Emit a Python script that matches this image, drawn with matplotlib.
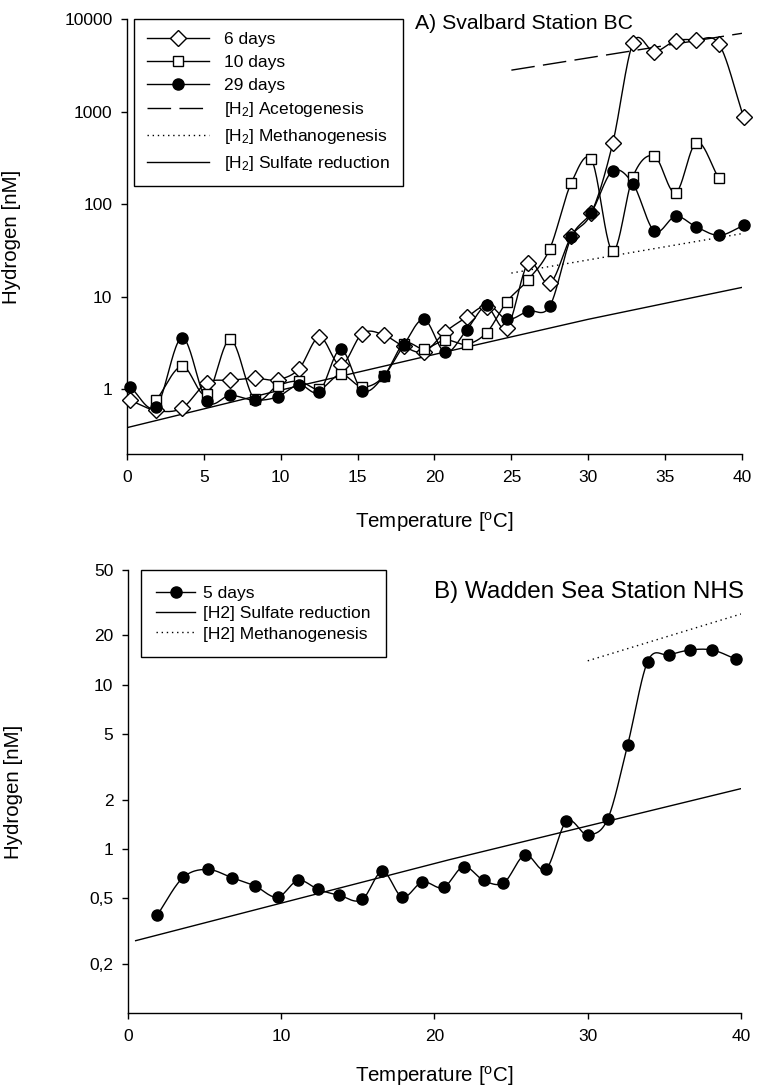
import matplotlib
matplotlib.use('Agg')
import matplotlib.pyplot as plt
import numpy as np
from matplotlib.ticker import FixedLocator, FixedFormatter, NullLocator

# data, panel A (Svalbard Station BC) #
#######################################

temp_a = [0.2, 1.9, 3.6, 5.2, 6.7, 8.3, 9.8, 11.2, 12.5, 13.9, 15.3, 16.7, 18.0, 19.3,
          20.7, 22.1, 23.4, 24.7, 26.1, 27.5, 28.9, 30.2, 31.6, 32.9, 34.3, 35.7, 37.0,
          38.5, 40.1]
h2_6d = [0.76, 0.59, 0.63, 1.18, 1.25, 1.32, 1.27, 1.67, 3.67, 1.82, 4.0, 3.87, 2.9, 2.53,
         4.17, 6.0, 7.8, 4.6, 23, 13.9, 45, 80, 460, 5460, 4430, 5830, 5930, 5370, 880]
temp_10d = temp_a[1:28]
h2_10d = [0.76, 1.77, 0.88, 3.45, 0.78, 1.09, 1.22, 1.0, 1.45, 1.06, 1.38, 3.1, 2.73, 3.4,
          3.07, 4.1, 8.8, 15.3, 33, 170, 304, 31, 197, 330, 133, 460, 190]
h2_29d = [1.06, 0.65, 3.6, 0.74, 0.86, 0.76, 0.83, 1.12, 0.94, 2.7, 0.97, 1.38, 3.0, 5.7,
          2.5, 4.4, 8.1, 5.7, 7.0, 7.9, 44, 81, 229, 167, 51, 74, 57, 46, 59]

aceto_a_temp = [25, 40]
aceto_a_h2 = [2800, 7000]
methano_a_temp = [25, 40]
methano_a_h2 = [18, 48]
sulfate_a_temp = [0, 10, 20, 30, 40]
sulfate_a_h2 = [0.385, 0.98, 2.38, 5.7, 12.6]

# data, panel B (Wadden Sea Station NHS) #
##########################################

temp_b = [1.9, 3.6, 5.2, 6.8, 8.3, 9.8, 11.1, 12.4, 13.8, 15.3, 16.6, 17.9, 19.2, 20.6,
          21.9, 23.2, 24.5, 25.9, 27.3, 28.6, 30.0, 31.3, 32.6, 33.9, 35.3, 36.7, 38.1, 39.7]
h2_5d = [0.394, 0.67, 0.75, 0.667, 0.594, 0.509, 0.643, 0.567, 0.521, 0.493, 0.73, 0.509,
         0.628, 0.583, 0.78, 0.643, 0.62, 0.92, 0.757, 1.47, 1.22, 1.52, 4.29, 13.8, 15.2,
         16.3, 16.3, 14.3]

sulfate_b_temp = [0.5, 21, 40]
sulfate_b_h2 = [0.276, 0.861, 2.33]
methano_b_temp = [30, 40]
methano_b_h2 = [14, 27]

ticks_a_x = [0, 5, 10, 15, 20, 25, 30, 35, 40]
ticks_a_y = [1, 10, 100, 1000, 10000]
labels_a_y = ['1', '10', '100', '1000', '10000']
ticks_b_x = [0, 10, 20, 30, 40]
ticks_b_y = [0.2, 0.5, 1, 2, 5, 10, 20, 50]
labels_b_y = ['0,2', '0,5', '1', '2', '5', '10', '20', '50']


def smooth(x, y, n=24):
    """spline-like line through the points (hermite in log space)"""
    x = np.asarray(x, float)
    ly = np.log10(np.asarray(y, float))
    m = np.gradient(ly, x)
    xs, ys = [], []
    for i in range(len(x) - 1):
        h = x[i + 1] - x[i]
        t = np.linspace(0, 1, n, endpoint=False)
        h00 = 2*t**3 - 3*t**2 + 1
        h10 = t**3 - 2*t**2 + t
        h01 = -2*t**3 + 3*t**2
        h11 = t**3 - t**2
        xs.append(x[i] + t*h)
        ys.append(h00*ly[i] + h10*h*m[i] + h01*ly[i + 1] + h11*h*m[i + 1])
    xs.append([x[-1]])
    ys.append([ly[-1]])
    return np.concatenate(xs), 10**np.concatenate(ys)


plt.rcParams['font.family'] = ['Liberation Sans', 'DejaVu Sans']
plt.rcParams['mathtext.fontset'] = 'custom'
plt.rcParams['mathtext.rm'] = 'Liberation Sans'
plt.rcParams['mathtext.it'] = 'Liberation Sans:italic'
plt.rcParams['mathtext.bf'] = 'Liberation Sans:bold'

fig = plt.figure(figsize=(7.6, 10.9), dpi=100)
ax1 = fig.add_axes([0.1671, 0.5835, 0.8092, 0.3991])
ax2 = fig.add_axes([0.1684, 0.0706, 0.8066, 0.4064])

dash = (0, (17, 6))
dot = (0, (1, 2.7))
lw = 1.0
fs_tick = 12.5
fs_leg = 12.5
fs_label = 14.8


def series(ax, x, y, marker, ms, face, label):
    sx, sy = smooth(x, y)
    ax.plot(sx, sy, color='k', lw=lw, clip_on=False, zorder=3)
    ax.plot(x, y, ls='none', marker=marker, ms=ms, mfc=face, mec='k', mew=1.0,
            clip_on=False, zorder=4)
    return plt.Line2D([], [], color='k', lw=lw, marker=marker, ms=ms, mfc=face,
                      mec='k', mew=1.0, label=label)


# panel A #
###########
h6 = series(ax1, temp_a, h2_6d, 'D', 8, 'white', '6 days')
h10 = series(ax1, temp_10d, h2_10d, 's', 7, 'white', '10 days')
h29 = series(ax1, temp_a, h2_29d, 'o', 8, 'black', '29 days')
ha, = ax1.plot(aceto_a_temp, aceto_a_h2, color='k', lw=lw, ls=dash,
               label='[H$_2$] Acetogenesis')
hm, = ax1.plot(methano_a_temp, methano_a_h2, color='k', lw=lw, ls=dot,
               label='[H$_2$] Methanogenesis')
hs, = ax1.plot(sulfate_a_temp, sulfate_a_h2, color='k', lw=lw,
               label='[H$_2$] Sulfate reduction')

ax1.set_yscale('log')
ax1.set_xlim(0, 40)
ax1.set_ylim(0.2, 10000)
ax1.xaxis.set_major_locator(FixedLocator(ticks_a_x))
ax1.yaxis.set_major_locator(FixedLocator(ticks_a_y))
ax1.yaxis.set_major_formatter(FixedFormatter(labels_a_y))
ax1.yaxis.set_minor_locator(NullLocator())
ax1.set_xlabel('Temperature [$^\\mathrm{o}$C]', fontsize=fs_label)
ax1.set_ylabel('Hydrogen [nM]', fontsize=fs_label)
ax1.text(0.468, 0.99, 'A) Svalbard Station BC', transform=ax1.transAxes,
         fontsize=15.3, va='center', ha='left')
leg1 = ax1.legend(handles=[h6, h10, h29, ha, hm, hs], loc='upper left',
                  bbox_to_anchor=(0.011, 1.0), borderaxespad=0, numpoints=1,
                  fontsize=fs_leg, handlelength=3.6, handletextpad=0.85,
                  borderpad=0.75, labelspacing=0.44, fancybox=False)

# panel B #
###########
h5 = series(ax2, temp_b, h2_5d, 'o', 8, 'black', '5 days')
hs2, = ax2.plot(sulfate_b_temp, sulfate_b_h2, color='k', lw=lw,
                label='[H2] Sulfate reduction')
hm2, = ax2.plot(methano_b_temp, methano_b_h2, color='k', lw=lw, ls=dot,
                label='[H2] Methanogenesis')

ax2.set_yscale('log')
ax2.set_xlim(0, 40)
ax2.set_ylim(0.1, 50)
ax2.xaxis.set_major_locator(FixedLocator(ticks_b_x))
ax2.yaxis.set_major_locator(FixedLocator(ticks_b_y))
ax2.yaxis.set_major_formatter(FixedFormatter(labels_b_y))
ax2.yaxis.set_minor_locator(NullLocator())
ax2.set_xlabel('Temperature [$^\\mathrm{o}$C]', fontsize=fs_label)
ax2.set_ylabel('Hydrogen [nM]', fontsize=fs_label)
ax2.text(0.499, 0.95, 'B) Wadden Sea Station NHS', transform=ax2.transAxes,
         fontsize=17.5, va='center', ha='left')
leg2 = ax2.legend(handles=[h5, hs2, hm2], loc='upper left',
                  bbox_to_anchor=(0.021, 1.0), borderaxespad=0, numpoints=1,
                  fontsize=fs_leg, handlelength=2.2, handletextpad=0.5,
                  borderpad=0.9, labelspacing=0.3, fancybox=False)

for leg in (leg1, leg2):
    leg.get_frame().set_edgecolor('k')
    leg.get_frame().set_linewidth(1.0)
    leg.get_frame().set_alpha(1)

for ax in (ax1, ax2):
    ax.spines['top'].set_visible(False)
    ax.spines['right'].set_visible(False)
    ax.spines['left'].set_linewidth(1.0)
    ax.spines['bottom'].set_linewidth(1.0)
    ax.tick_params(axis='both', direction='out', length=4.5, width=1.0,
                   labelsize=fs_tick)
    ax.tick_params(axis='x', pad=7)
    ax.tick_params(axis='y', pad=6)
    ax.yaxis.set_label_coords(-0.172, 0.5)

ax1.xaxis.set_label_coords(0.5, -0.128)
ax2.xaxis.set_label_coords(0.5, -0.115)

fig.savefig('out.png', dpi=100)
